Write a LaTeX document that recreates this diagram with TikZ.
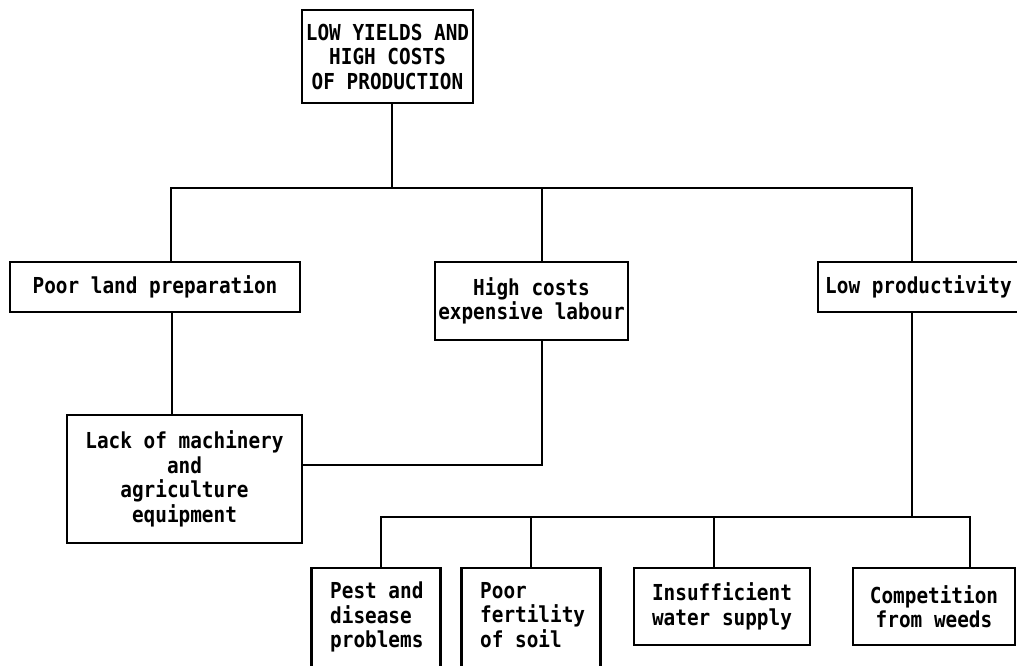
\documentclass[tikz,border=0pt]{standalone}
\usepackage{fontspec}
\newfontfamily\typewriter{DejaVu Sans Mono}[FakeStretch=0.88]
\begin{document}
\begin{tikzpicture}[x=1pt,y=-1pt,
  txt/.style={font=\typewriter\bfseries\fontsize{22}{24.5}\selectfont},
  box/.style={txt, draw, line width=2.8pt, align=center, inner sep=0pt},
  openbox/.style={anchor=north, inner sep=0pt},
  innertext/.style={txt, anchor=north west, align=left, inner sep=0pt},
  link/.style={line width=2.8pt}]
\useasboundingbox (0,0) rectangle (1017,665);
\clip (0,0) rectangle (1017,665);

% top problem
\node[box, minimum width=171pt, minimum height=93pt] (top) at (387.5,56.5)
  {LOW YIELDS AND\\HIGH COSTS\\OF PRODUCTION};

% second level
\node[box, minimum width=290pt, minimum height=50pt] (land) at (155,287) {Poor land preparation};
\node[box, minimum width=193pt, minimum height=78pt] (cost) at (531.5,301) {High costs\\expensive labour};
\node[box, minimum width=222pt, minimum height=50pt] (low) at (929,287) {};
\node[txt, anchor=west, inner sep=0pt] (lowtext) at (825,287) {Low productivity};

% third level
\node[box, minimum width=235pt, minimum height=128pt] (lack) at (184.5,479)
  {Lack of machinery\\and\\agriculture\\equipment};

% bottom level (the first two boxes run past the lower edge)
\node[openbox, minimum width=128pt, minimum height=110pt] (pest) at (376,568) {};
\draw[link] (pest.south west) -- (pest.north west) -- (pest.north east) -- (pest.south east);
\node[innertext] (pesttext) at (330,582) {Pest and\\disease\\problems};
\node[openbox, minimum width=138pt, minimum height=110pt] (soil) at (531,568) {};
\draw[link] (soil.south west) -- (soil.north west) -- (soil.north east) -- (soil.south east);
\node[innertext] (soiltext) at (480,582) {Poor\\fertility\\of soil};
\node[box, minimum width=176pt, minimum height=77pt] (water) at (722,606.5) {Insufficient\\water supply};
\node[box, minimum width=162pt, minimum height=77pt] (weeds) at (934,606.5) {Competition\\from weeds};

% junction points
\coordinate (t0) at (392,188);
\coordinate (b1) at (171,188);
\coordinate (b2) at (542,188);
\coordinate (b3) at (912,188);
\coordinate (d1) at (172,0);
\coordinate (k) at (542,465);
\coordinate (u0) at (912,517);
\coordinate (u1) at (381,517);
\coordinate (u2) at (531,517);
\coordinate (u3) at (714,517);
\coordinate (u4) at (970,517);

% connectors
\draw[link] (top.south -| t0) -- (t0);
\draw[link] (land.north -| b1) -- (b1) -- (b3) -- (low.north -| b3);
\draw[link] (b2) -- (cost.north -| b2);
\draw[link] (land.south -| d1) -- (lack.north -| d1);
\draw[link] (cost.south -| k) -- (k) -- (k -| lack.east);
\draw[link] (low.south -| u0) -- (u0);
\draw[link] (pest.north -| u1) -- (u1) -- (u4) -- (weeds.north -| u4);
\draw[link] (u2) -- (soil.north -| u2);
\draw[link] (u3) -- (water.north -| u3);
\end{tikzpicture}
\end{document}
